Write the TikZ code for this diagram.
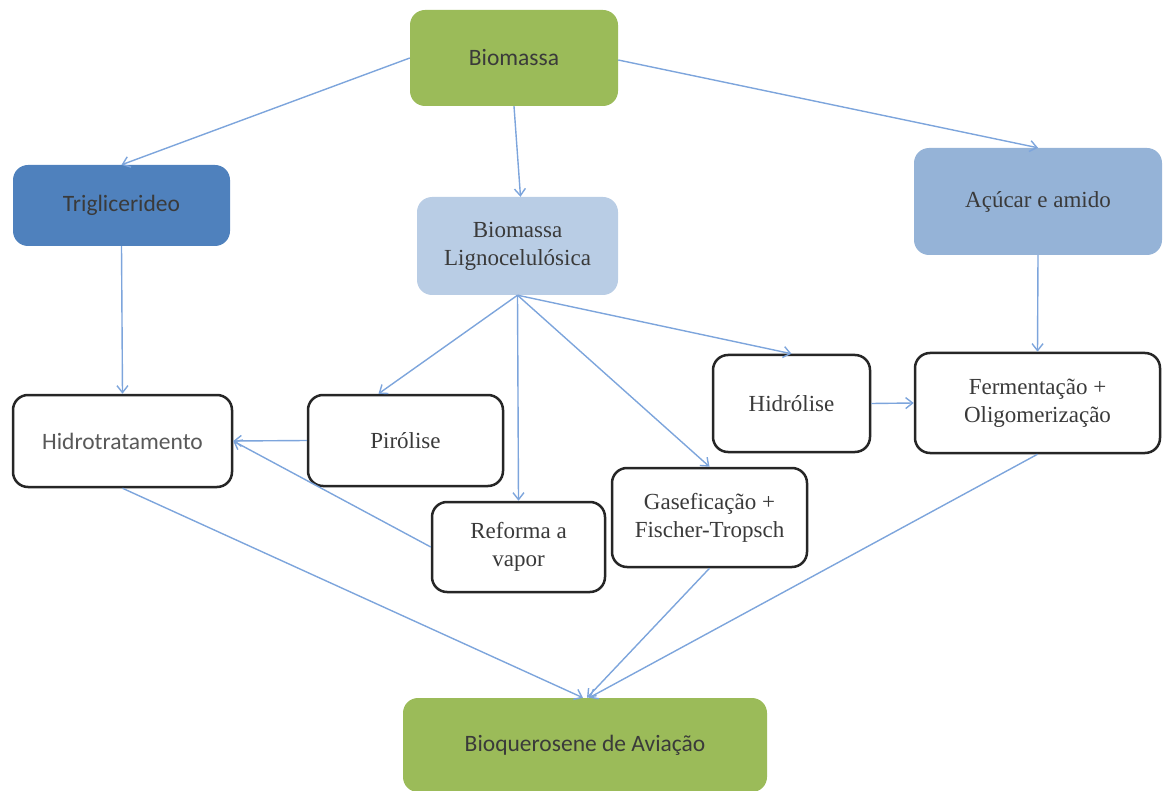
\documentclass[tikz,border=0pt]{standalone}
\usepackage{fontspec}
\setmainfont{Liberation Serif}
\newfontfamily\calfont{Carlito}
\usetikzlibrary{arrows.meta}
\definecolor{leafgreen}{HTML}{9BBB59}
\definecolor{deepblue}{HTML}{4F81BD}
\definecolor{paleblue}{HTML}{B9CDE5}
\definecolor{midblue}{HTML}{95B3D7}
\definecolor{linkblue}{HTML}{7DA5DC}
\definecolor{inkgray}{HTML}{3A3A3A}
\tikzset{
  box/.style={rounded corners=15pt, align=center, inner sep=0pt,
    font=\fontsize{23}{28}\selectfont, text=inkgray},
  filled/.style={box, draw=none, fill=#1},
  outlined/.style={box, draw=black!85, line width=2.5pt, fill=white},
  sans/.style={font=\calfont\fontsize{23.5}{28}\selectfont},
  link/.style={draw=linkblue, line width=1.4pt,
    -{Straight Barb[length=7pt,width=11pt]}}
}
\begin{document}
\begin{tikzpicture}[x=1pt,y=-1pt]
\useasboundingbox (0,0) rectangle (1167,791);
\begin{scope}
\clip (0,0) rectangle (1167,791);
% source and product boxes
\node[filled=leafgreen, sans, minimum width=208pt, minimum height=96pt] (bio) at (514,58) {Biomassa};
\node[filled=leafgreen, sans, minimum width=364pt, minimum height=94pt] (bioq) at (585,745) {Bioquerosene de Aviação};
% feedstock groups
\node[filled=deepblue, sans, minimum width=217pt, minimum height=81pt] (tri) at (121.5,205.5) {Triglicerideo};
\node[filled=paleblue, minimum width=201pt, minimum height=98pt] (ligno) at (517.5,246) {Biomassa\\Lignocelulósica};
\node[filled=midblue, minimum width=248pt, minimum height=107pt] (acu) at (1038,201.5) {Açúcar e amido};
% conversion routes
\node[outlined, sans, text=black!65, minimum width=219pt, minimum height=92pt] (hidro) at (122.5,441) {Hidrotratamento};
\node[outlined, minimum width=195pt, minimum height=91pt] (piro) at (405.5,440.5) {Pirólise};
\node[outlined, minimum width=173pt, minimum height=90pt] (reforma) at (518.5,547) {Reforma a\\vapor};
\node[outlined, minimum width=195pt, minimum height=99pt] (gas) at (709.5,517.5) {Gaseficação +\\Fischer-Tropsch};
\node[outlined, minimum width=157pt, minimum height=97pt] (hidrol) at (791.5,403.5) {Hidrólise};
\node[outlined, minimum width=245pt, minimum height=100pt] (ferm) at (1037.5,403) {Fermentação +\\Oligomerização};
\end{scope}
% connectors
\draw[link] (bio.west) -- (tri.north);
\draw[link] (bio.south) -- ([xshift=3pt]ligno.north);
\draw[link] ([yshift=-2pt]bio.east) -- (acu.north);
\draw[link] (tri.south) -- (hidro.north);
\draw[link] (acu.south) -- (ferm.north);
\draw[link] (ligno.south) -- ([xshift=-27pt]piro.north);
\draw[link] (ligno.south) -- (reforma.north);
\draw[link] (ligno.south) -- (gas.north);
\draw[link] (ligno.south) -- (hidrol.north);
\draw[link] (hidrol.east) -- (ferm.west);
\draw[link] (piro.west) -- (hidro.east);
\draw[link] (reforma.west) -- (hidro.east);
\draw[link] (hidro.south) -- ([xshift=-2pt]bioq.north);
\draw[link] (gas.south) -- ([xshift=2pt]bioq.north);
\draw[link] (ferm.south) -- ([xshift=4pt]bioq.north);
\end{tikzpicture}
\end{document}
